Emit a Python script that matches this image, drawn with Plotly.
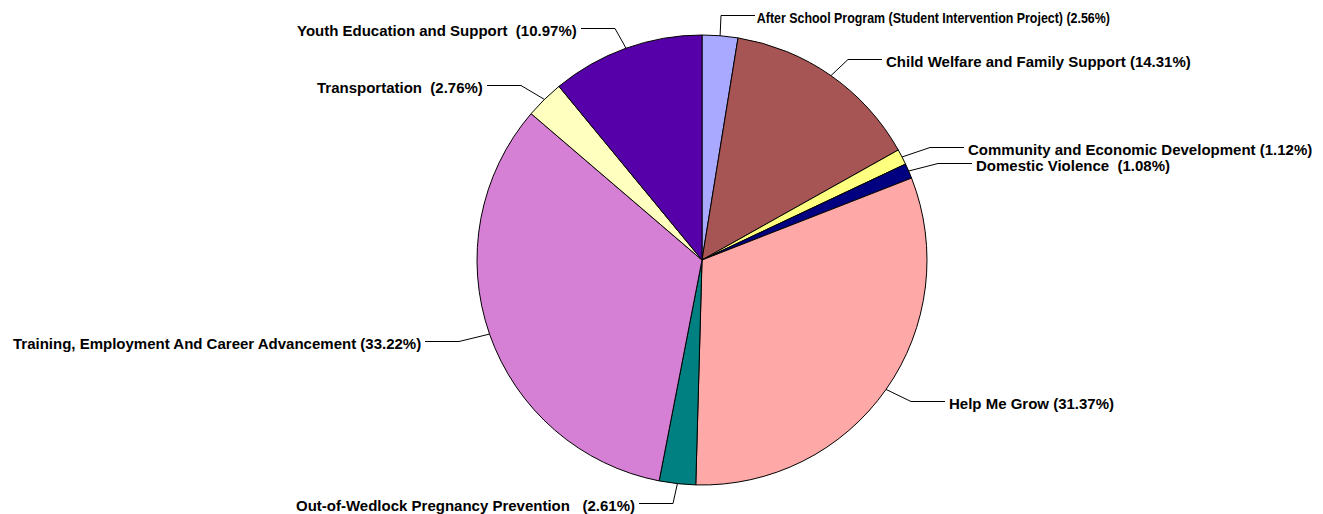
import math
import plotly.graph_objects as go

W, H = 1323, 514

categories = [
    "After School Program (Student Intervention Project)",
    "Child Welfare and Family Support",
    "Community and Economic Development",
    "Domestic Violence",
    "Help Me Grow",
    "Out-of-Wedlock Pregnancy Prevention",
    "Training, Employment And Career Advancement",
    "Transportation",
    "Youth Education and Support",
]
values = [2.56, 14.31, 1.12, 1.08, 31.37, 2.61, 33.22, 2.76, 10.97]
# separator between name and percentage as printed in the original
separators = [" ", " ", " ", "\u00a0\u00a0", " ", "\u00a0\u00a0\u00a0", " ", "\u00a0\u00a0", "\u00a0\u00a0"]

colors = ["#A9A9FF", "#A65454", "#FFFF80", "#000080", "#FFA8A8",
          "#008080", "#D580D5", "#FFFFC0", "#5500A8"]

# layout: pie centre / radius (px) and label anchors (px, side)
CX, CY, R = 702, 260, 225
label_pos = [
    (757, 17, "left"),
    (884, 61, "left"),
    (966, 149, "left"),
    (974, 165, "left"),
    (947, 403, "left"),
    (637, 505, "right"),
    (423, 343, "right"),
    (485, 87, "right"),
    (579, 30, "right"),
]
NARROW_WIDTH = 353   # the first label is set in a narrow face in the original
SEG = 34

fig = go.Figure()
fig.add_trace(go.Pie(
    labels=categories, values=values, sort=False, direction="clockwise",
    rotation=0, textinfo="none", hoverinfo="label+percent",
    marker=dict(colors=colors, line=dict(color="black", width=1)),
    domain=dict(x=[(CX - R) / W, (CX + R) / W], y=[1 - (CY + R) / H, 1 - (CY - R) / H]),
    showlegend=False,
))

total = sum(values)
cum = 0.0
shapes, annotations = [], []
for i, (cat, v, sep, (lx, ly, side)) in enumerate(zip(categories, values, separators, label_pos)):
    mid = (cum + v / 2) / total * 2 * math.pi
    cum += v
    ex, ey = CX + R * math.sin(mid), CY - R * math.cos(mid)
    ly_line = ly - 1.5
    if side == "left":
        end_x = lx - 2
        elbow_x = end_x - SEG
    else:
        end_x = lx + 2
        elbow_x = end_x + SEG
    shapes.append(dict(type="path", xref="x", yref="y",
                       path=f"M{ex:.1f},{ey:.1f} L{elbow_x:.1f},{ly_line:.1f} L{end_x:.1f},{ly_line:.1f}",
                       line=dict(color="black", width=1)))
    ax, anchor = lx, side
    if i == 0:
        ax, anchor = lx + NARROW_WIDTH / 2, "center"
    annotations.append(dict(x=ax, y=ly, xref="x", yref="y", showarrow=False,
                            xanchor=anchor, yanchor="middle",
                            text=f"<b>{cat}{sep}({v:.2f}%)</b>",
                            font=dict(family="Liberation Sans, Arial, sans-serif", size=15, color="black")))

fig.update_layout(
    width=W, height=H, margin=dict(l=0, r=0, t=0, b=0),
    paper_bgcolor="white", plot_bgcolor="rgba(0,0,0,0)",
    xaxis=dict(range=[0, W], visible=False, fixedrange=True),
    yaxis=dict(range=[H, 0], visible=False, fixedrange=True),
    shapes=shapes, annotations=annotations,
)

post = """
document.body.style.margin='0';document.body.style.overflow='hidden';
document.querySelectorAll('text.annotation-text').forEach(function(t){
  if (t.textContent.indexOf('After School') === 0) {
    t.setAttribute('textLength', '%d');
    t.setAttribute('lengthAdjust', 'spacingAndGlyphs');
  }
});
""" % NARROW_WIDTH
fig.write_html("out.html", post_script=post, config={"displayModeBar": False})
